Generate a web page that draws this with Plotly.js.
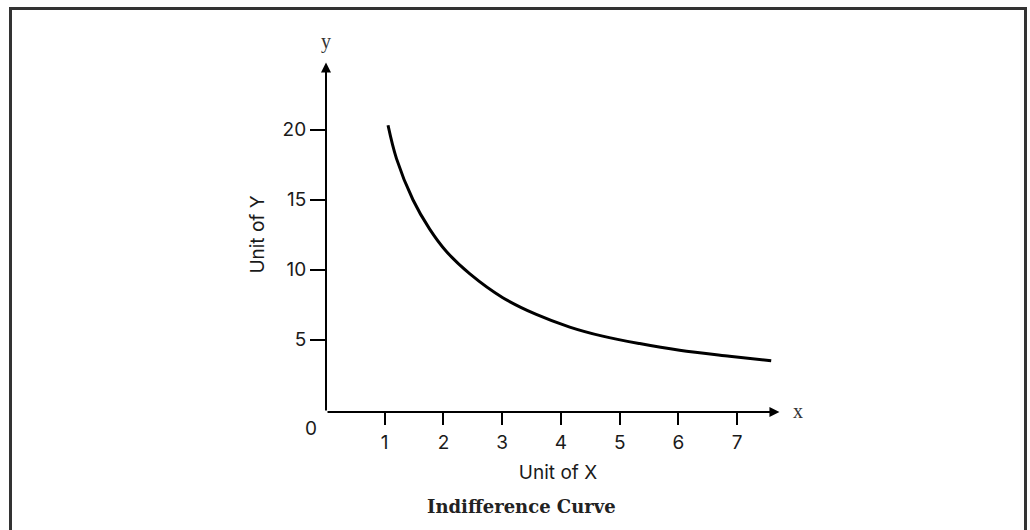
<!DOCTYPE html>
<html>
<head>
<meta charset="utf-8">
<script src="https://cdn.plot.ly/plotly-3.0.1.min.js"></script>
<style>
  html, body { margin: 0; padding: 0; background: #fff; }
  #wrap { position: relative; width: 1030px; height: 530px; overflow: hidden; }
  #chart { width: 1030px; height: 530px; }
  #frame { position: absolute; left: 9px; top: 7px; width: 1012px; height: 600px;
           border: 3px solid #333; pointer-events: none; }
</style>
</head>
<body>
<div id="wrap">
  <div id="chart"></div>
  <div id="frame"></div>
</div>
<script>
// Points
const unitsX = [1.056, 1.2, 1.48, 1.765, 2.05, 2.45, 3.01, 3.58, 4.15, 4.71, 5.34, 6.02, 6.87, 7.58];
const unitsY = [20.32, 17.94, 15.0, 12.9, 11.3, 9.7, 8.0, 6.8, 5.9, 5.25, 4.72, 4.25, 3.82, 3.49];

const xTicks = [1, 2, 3, 4, 5, 6, 7];
const yTicks = [5, 10, 15, 20];

const xAxisEnd = 7.72;
const yAxisEnd = 24.8;
const yBase = -0.17;

const sans = "Inter, 'DejaVu Sans', sans-serif";
const serif = "'DejaVu Serif', 'Liberation Serif', serif";
const lserif = "'Liberation Serif', serif";

const trace = {
  x: unitsX, y: unitsY, type: 'scatter', mode: 'lines',
  line: { color: '#000', width: 3, shape: 'spline', smoothing: 1 },
  hoverinfo: 'skip'
};

const layout = {
  width: 1030, height: 530,
  margin: { l: 326, r: 240, t: 56.5, b: 118.3 },
  paper_bgcolor: '#fff', plot_bgcolor: '#fff',
  showlegend: false,
  xaxis: {
    range: [0, 7.9], showgrid: false, zeroline: false, showline: false,
    tickvals: xTicks, ticktext: xTicks.map(String),
    ticks: 'outside', ticklen: 12, tickwidth: 2, tickcolor: '#000',
    ticklabelstandoff: 1,
    tickfont: { family: sans, size: 19, color: '#1a1a1a' },
    title: { text: 'Unit of X', font: { family: sans, size: 19, color: '#1a1a1a' }, standoff: 12 }
  },
  yaxis: {
    range: [yBase, 25.2], showgrid: false, zeroline: false, showline: false,
    tickvals: yTicks, ticktext: yTicks.map(String),
    ticks: 'outside', ticklen: 15, tickwidth: 2, tickcolor: '#000',
    tickfont: { family: sans, size: 19, color: '#1a1a1a' },
    title: { text: 'Unit of Y', font: { family: sans, size: 19, color: '#1a1a1a' }, standoff: 12 }
  },
  annotations: [
    { x: xAxisEnd, y: yBase, ax: 0, ay: yBase, xref: 'x', yref: 'y', axref: 'x', ayref: 'y',
      text: '', showarrow: true, arrowhead: 2, arrowsize: 1, arrowwidth: 2, arrowcolor: '#000' },
    { x: 0, y: yAxisEnd, ax: 0, ay: yBase, xref: 'x', yref: 'y', axref: 'x', ayref: 'y',
      text: '', showarrow: true, arrowhead: 2, arrowsize: 1, arrowwidth: 2, arrowcolor: '#000' },
    { x: 0, y: yBase, xref: 'x', yref: 'y', text: '0', showarrow: false,
      xanchor: 'center', yanchor: 'middle', xshift: -15, yshift: -16,
      font: { family: sans, size: 19, color: '#1a1a1a' } },
    { x: xAxisEnd, y: yBase, xref: 'x', yref: 'y', text: 'x', showarrow: false,
      xanchor: 'left', yanchor: 'middle', xshift: 12, yshift: 1,
      font: { family: lserif, size: 20, color: '#333' } },
    { x: 0, y: yAxisEnd, xref: 'x', yref: 'y', text: 'y', showarrow: false,
      xanchor: 'center', yanchor: 'bottom', yshift: 8,
      font: { family: lserif, size: 20, color: '#333' } },
    { x: 0.5, y: 0, xref: 'paper', yref: 'paper', text: '<b>Indifference Curve</b>', showarrow: false,
      xanchor: 'center', yanchor: 'middle', xshift: -37, yshift: -94,
      font: { family: serif, size: 18, color: '#222' } }
  ]
};

Plotly.newPlot('chart', [trace], layout, { staticPlot: true, displayModeBar: false });
</script>
</body>
</html>
